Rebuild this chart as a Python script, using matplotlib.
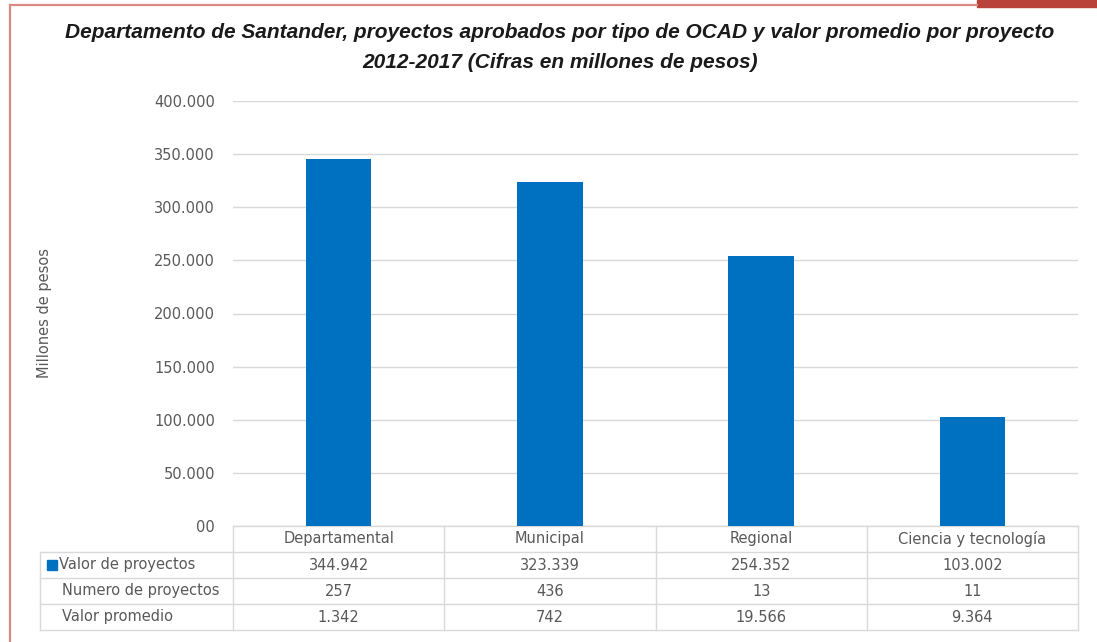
"""Santander OCAD projects: bar chart with an Excel-style data table."""
import matplotlib

matplotlib.use("Agg")
import matplotlib.pyplot as plt
from matplotlib.lines import Line2D
from matplotlib.patches import Rectangle
from matplotlib.ticker import FuncFormatter

categories = ["Departamental", "Municipal", "Regional", "Ciencia y tecnología"]
valor_proyectos = [344942, 323339, 254352, 103002]
numero_proyectos = [257, 436, 13, 11]
valor_promedio = [1342, 742, 19566, 9364]
row_labels = ["Valor de proyectos", "Numero de proyectos", "Valor promedio"]
y_ticks = [0, 50000, 100000, 150000, 200000, 250000, 300000, 350000, 400000]

BLUE = "#0070C0"
GRID = "#d9d9d9"
TEXT = "#595959"
W, H = 1097, 642


def fx(px):
    return px / W


def fy(py):
    return 1 - py / H


def fmt(value):
    # Excel-style thousands separator; zero shows as "00" in the source
    if value == 0:
        return "00"
    return f"{value:,.0f}".replace(",", ".")


plt.rcParams["font.family"] = ["DejaVu Sans"]
fig = plt.figure(figsize=(W / 100, H / 100), dpi=100)
ax_left, ax_right, ax_top, ax_bottom = 233, 1078, 101, 526
ax = fig.add_axes(
    [fx(ax_left), fy(ax_bottom), (ax_right - ax_left) / W, (ax_bottom - ax_top) / H]
)

x = list(range(len(categories)))
ax.bar(x, valor_proyectos, width=0.31, color=BLUE, zorder=3)
ax.set_xlim(-0.5, len(categories) - 0.5)
ax.set_ylim(0, 400000)
ax.set_yticks(y_ticks)
ax.yaxis.set_major_formatter(FuncFormatter(lambda v, _: fmt(v)))
ax.tick_params(axis="y", length=0, pad=13, labelsize=10.5, labelcolor=TEXT)
ax.set_xticks([])
ax.grid(axis="y", color=GRID, linewidth=1.0, zorder=0)
for spine in ax.spines.values():
    spine.set_visible(False)

# data table under the axes, in axes coordinates
ax_w = ax_right - ax_left
ax_h = ax_bottom - ax_top


def ax_x(px):
    return (px - ax_left) / ax_w


def ax_y(py):
    return (ax_bottom - py) / ax_h


row_edges = [526, 552, 578, 604, 630]
label_left = 40
line_kw = dict(color=GRID, linewidth=1.0, clip_on=False, transform=ax.transAxes)
ax.add_line(Line2D([0, 1], [ax_y(526)] * 2, **line_kw))
for py in row_edges[1:]:
    ax.add_line(Line2D([ax_x(label_left), 1], [ax_y(py)] * 2, **line_kw))
ax.add_line(Line2D([ax_x(label_left)] * 2, [ax_y(552), ax_y(630)], **line_kw))
for i in range(len(categories) + 1):
    xa = i / len(categories)
    ax.add_line(Line2D([xa, xa], [ax_y(526), ax_y(630)], **line_kw))

rows = [valor_proyectos, numero_proyectos, valor_promedio]
for i, name in enumerate(categories):
    xc = (i + 0.5) / len(categories)
    ax.text(xc, ax_y(539), name, ha="center", va="center", fontsize=10.5,
            color=TEXT, transform=ax.transAxes, clip_on=False)
    for r, values in enumerate(rows):
        yc = ax_y((row_edges[r + 1] + row_edges[r + 2]) / 2)
        ax.text(xc, yc, fmt(values[i]), ha="center", va="center", fontsize=10.5,
                color=TEXT, transform=ax.transAxes, clip_on=False)

for r, label in enumerate(row_labels):
    yc = ax_y((row_edges[r + 1] + row_edges[r + 2]) / 2)
    ax.text(ax_x(59 if r == 0 else 62), yc, label, ha="left", va="center",
            fontsize=10.5, color=TEXT, transform=ax.transAxes, clip_on=False)
ax.add_patch(Rectangle((ax_x(47), ax_y(570)), 10 / ax_w, 10 / ax_h,
                       color=BLUE, transform=ax.transAxes, clip_on=False))

fig.text(fx(45), fy(313), "Millones de pesos", rotation=90, ha="center",
         va="center", fontsize=10.5, color=TEXT)

title_font = ["Liberation Sans", "DejaVu Sans"]
fig.text(fx(560), fy(32),
         "Departamento de Santander, proyectos aprobados por tipo de OCAD y valor promedio por proyecto",
         ha="center", va="center", fontsize=15, fontweight="bold", style="italic",
         family=title_font, color="#1a1a1a")
fig.text(fx(560), fy(62), "2012-2017 (Cifras en millones de pesos)",
         ha="center", va="center", fontsize=15, fontweight="bold", style="italic",
         family=title_font, color="#1a1a1a")

# page frame from the source document
fig.add_artist(Line2D([fx(10), fx(10)], [fy(5), 0], color="#d98a82", linewidth=1.6))
fig.add_artist(Line2D([fx(10), fx(977)], [fy(5), fy(5)], color="#d98a82", linewidth=1.6))
fig.add_artist(Rectangle((fx(977), fy(7)), fx(W - 977), 7 / H, color="#b9423a"))

fig.savefig("out.png", dpi=100)
